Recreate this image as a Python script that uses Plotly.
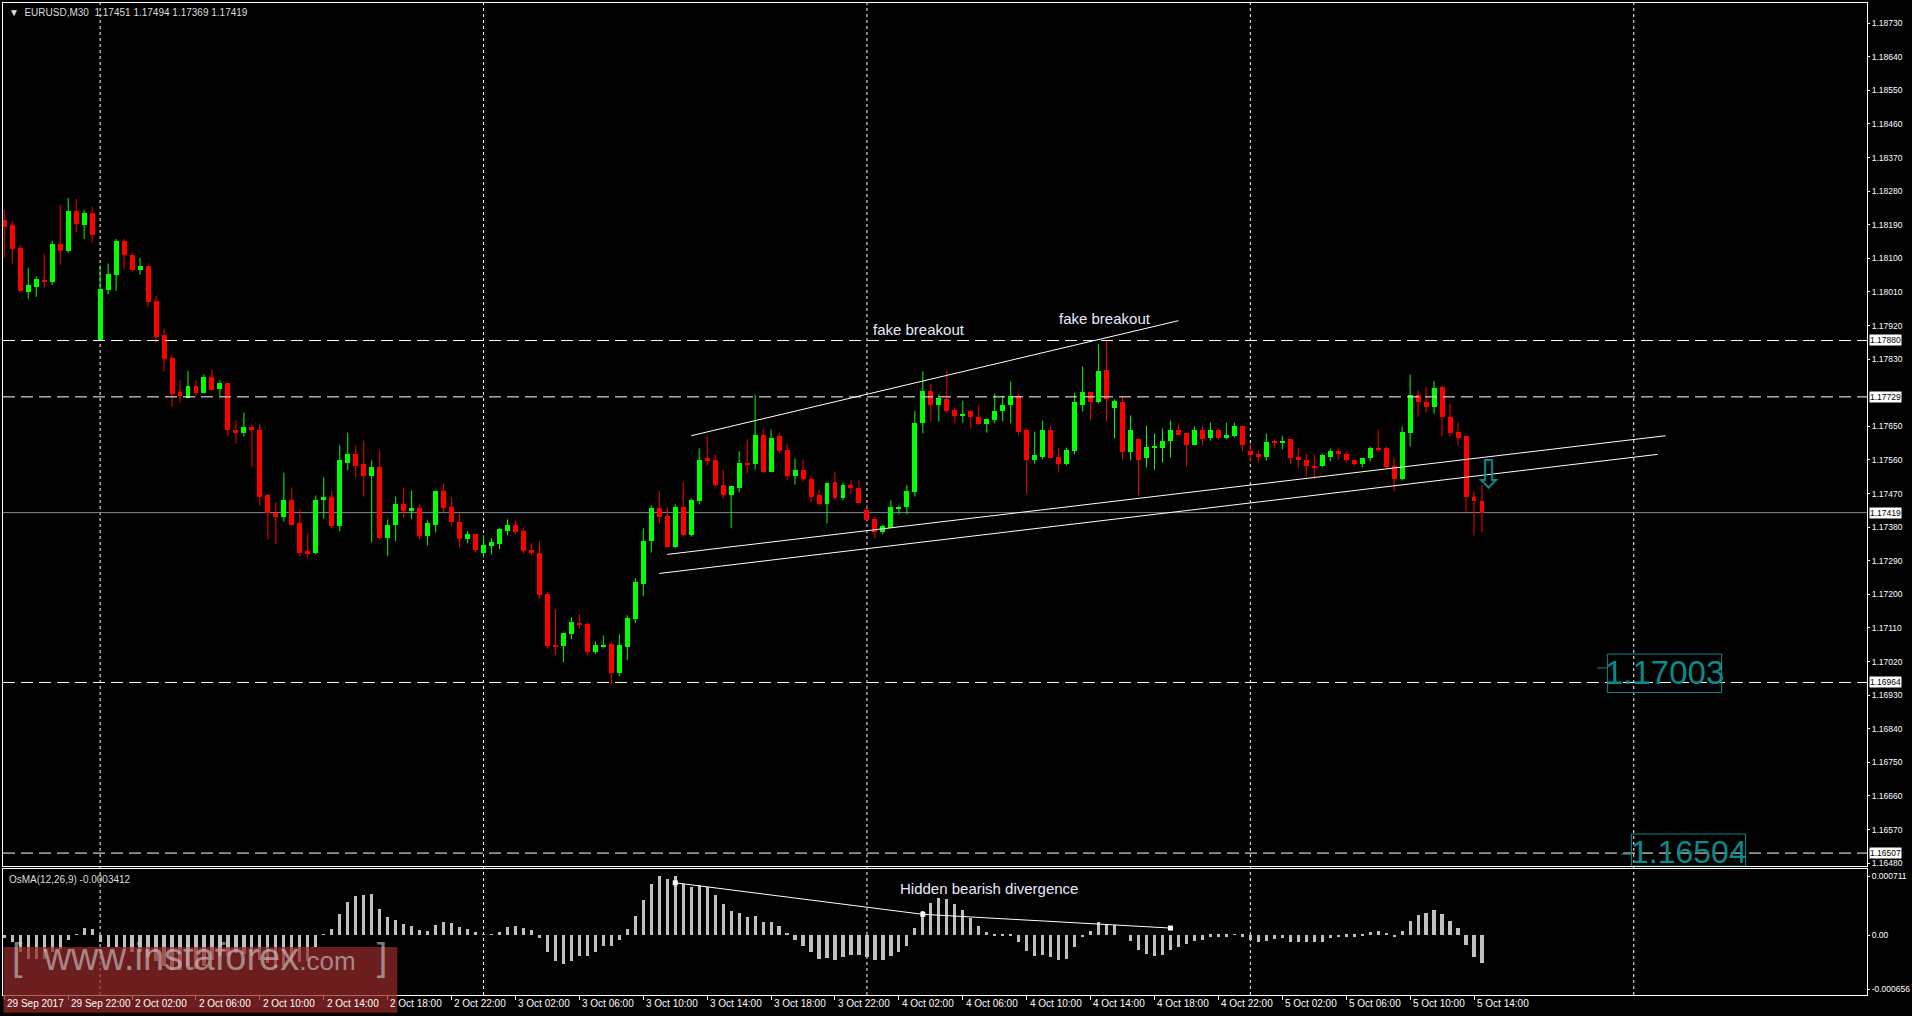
import plotly.graph_objects as go

# EURUSD M30, bars from 29 Sep 2017 18:00 to 5 Oct 14:30 (index = bar number)
opens = [
    1.18203, 1.18190, 1.18128, 1.18011, 1.18024, 1.18043, 1.18037, 1.18139, 1.18120, 1.18227,
    1.18190, 1.18222, 1.17880, 1.18016, 1.18056, 1.18147, 1.18110, 1.18069, 1.18080, 1.17987,
    1.17896, 1.17834, 1.17743, 1.17727, 1.17759, 1.17740, 1.17781, 1.17751, 1.17767, 1.17641,
    1.17631, 1.17649, 1.17641, 1.17465, 1.17419, 1.17406, 1.17452, 1.17390, 1.17315, 1.17310,
    1.17452, 1.17460, 1.17382, 1.17553, 1.17577, 1.17548, 1.17516, 1.17542, 1.17350, 1.17385,
    1.17443, 1.17425, 1.17430, 1.17355, 1.17387, 1.17476, 1.17433, 1.17395, 1.17347, 1.17361,
    1.17310, 1.17329, 1.17334, 1.17371, 1.17387, 1.17369, 1.17318, 1.17312, 1.17200, 1.17064,
    1.17061, 1.17093, 1.17123, 1.17120, 1.17045, 1.17061, 1.17066, 1.16989, 1.17058, 1.17133,
    1.17229, 1.17342, 1.17430, 1.17409, 1.17326, 1.17435, 1.17358, 1.17449, 1.17564, 1.17559,
    1.17494, 1.17465, 1.17484, 1.17553, 1.17548, 1.17628, 1.17529, 1.17623, 1.17588, 1.17516,
    1.17532, 1.17510, 1.17465, 1.17441, 1.17500, 1.17457, 1.17492, 1.17486, 1.17425, 1.17401,
    1.17366, 1.17379, 1.17430, 1.17433, 1.17473, 1.17658, 1.17746, 1.17706, 1.17724, 1.17695,
    1.17679, 1.17692, 1.17676, 1.17655, 1.17668, 1.17690, 1.17706, 1.17730, 1.17639, 1.17559,
    1.17567, 1.17641, 1.17567, 1.17550, 1.17585, 1.17708, 1.17743, 1.17714, 1.17802, 1.17698,
    1.17716, 1.17580, 1.17617, 1.17564, 1.17593, 1.17593, 1.17610, 1.17639, 1.17631, 1.17599,
    1.17641, 1.17620, 1.17641, 1.17620, 1.17625, 1.17650, 1.17583, 1.17575, 1.17567, 1.17609,
    1.17607, 1.17615, 1.17567, 1.17561, 1.17545, 1.17543, 1.17569, 1.17585, 1.17577, 1.17561,
    1.17548, 1.17564, 1.17591, 1.17591, 1.17545, 1.17508, 1.17631, 1.17735, 1.17716, 1.17703,
    1.17756, 1.17676, 1.17636, 1.17625, 1.17462, 1.17451,
]
highs = [
    1.18230, 1.18201, 1.18136, 1.18075, 1.18051, 1.18112, 1.18147, 1.18243, 1.18262, 1.18259,
    1.18230, 1.18238, 1.18080, 1.18086, 1.18152, 1.18152, 1.18115, 1.18102, 1.18080, 1.18000,
    1.17912, 1.17839, 1.17773, 1.17799, 1.17775, 1.17789, 1.17802, 1.17773, 1.17767, 1.17666,
    1.17687, 1.17655, 1.17657, 1.17470, 1.17446, 1.17526, 1.17486, 1.17427, 1.17363, 1.17465,
    1.17513, 1.17478, 1.17599, 1.17633, 1.17599, 1.17612, 1.17559, 1.17585, 1.17401, 1.17462,
    1.17486, 1.17478, 1.17441, 1.17398, 1.17478, 1.17497, 1.17460, 1.17419, 1.17369, 1.17361,
    1.17358, 1.17350, 1.17377, 1.17401, 1.17398, 1.17379, 1.17337, 1.17342, 1.17205, 1.17160,
    1.17096, 1.17139, 1.17147, 1.17125, 1.17074, 1.17090, 1.17072, 1.17093, 1.17144, 1.17243,
    1.17377, 1.17438, 1.17478, 1.17433, 1.17441, 1.17500, 1.17457, 1.17591, 1.17623, 1.17575,
    1.17534, 1.17489, 1.17583, 1.17615, 1.17735, 1.17644, 1.17641, 1.17633, 1.17604, 1.17564,
    1.17561, 1.17516, 1.17481, 1.17500, 1.17529, 1.17500, 1.17505, 1.17505, 1.17441, 1.17409,
    1.17387, 1.17452, 1.17438, 1.17492, 1.17692, 1.17797, 1.17764, 1.17735, 1.17799, 1.17700,
    1.17719, 1.17692, 1.17706, 1.17671, 1.17738, 1.17732, 1.17770, 1.17738, 1.17644, 1.17636,
    1.17666, 1.17652, 1.17591, 1.17593, 1.17740, 1.17810, 1.17743, 1.17871, 1.17879, 1.17722,
    1.17730, 1.17679, 1.17617, 1.17652, 1.17631, 1.17644, 1.17666, 1.17655, 1.17631, 1.17650,
    1.17652, 1.17660, 1.17644, 1.17660, 1.17660, 1.17650, 1.17604, 1.17585, 1.17631, 1.17615,
    1.17625, 1.17615, 1.17591, 1.17577, 1.17575, 1.17577, 1.17591, 1.17591, 1.17583, 1.17561,
    1.17564, 1.17596, 1.17641, 1.17596, 1.17567, 1.17650, 1.17789, 1.17746, 1.17756, 1.17772,
    1.17759, 1.17711, 1.17660, 1.17625, 1.17476, 1.17494,
]
lows = [
    1.18102, 1.18086, 1.18011, 1.17992, 1.17997, 1.18021, 1.18029, 1.18083, 1.18115, 1.18171,
    1.18152, 1.18142, 1.17880, 1.18003, 1.18013, 1.18072, 1.18064, 1.18056, 1.17970, 1.17874,
    1.17797, 1.17703, 1.17714, 1.17727, 1.17730, 1.17738, 1.17748, 1.17732, 1.17623, 1.17604,
    1.17623, 1.17540, 1.17438, 1.17347, 1.17334, 1.17395, 1.17385, 1.17302, 1.17299, 1.17307,
    1.17403, 1.17377, 1.17369, 1.17532, 1.17513, 1.17462, 1.17339, 1.17347, 1.17302, 1.17342,
    1.17406, 1.17401, 1.17347, 1.17331, 1.17366, 1.17419, 1.17385, 1.17326, 1.17337, 1.17312,
    1.17299, 1.17307, 1.17321, 1.17358, 1.17361, 1.17310, 1.17304, 1.17189, 1.17056, 1.17037,
    1.17018, 1.17080, 1.17109, 1.17037, 1.17040, 1.17058, 1.16959, 1.16981, 1.17024, 1.17123,
    1.17195, 1.17312, 1.17390, 1.17326, 1.17323, 1.17355, 1.17355, 1.17441, 1.17545, 1.17489,
    1.17457, 1.17377, 1.17473, 1.17524, 1.17534, 1.17529, 1.17529, 1.17577, 1.17505, 1.17494,
    1.17502, 1.17446, 1.17438, 1.17390, 1.17452, 1.17452, 1.17468, 1.17446, 1.17398, 1.17350,
    1.17361, 1.17377, 1.17414, 1.17414, 1.17462, 1.17631, 1.17663, 1.17663, 1.17687, 1.17658,
    1.17660, 1.17644, 1.17655, 1.17633, 1.17658, 1.17663, 1.17658, 1.17625, 1.17468, 1.17550,
    1.17561, 1.17564, 1.17529, 1.17545, 1.17575, 1.17690, 1.17666, 1.17711, 1.17663, 1.17617,
    1.17561, 1.17559, 1.17465, 1.17540, 1.17534, 1.17553, 1.17567, 1.17628, 1.17543, 1.17599,
    1.17599, 1.17612, 1.17615, 1.17615, 1.17620, 1.17583, 1.17556, 1.17553, 1.17559, 1.17593,
    1.17588, 1.17548, 1.17537, 1.17516, 1.17510, 1.17540, 1.17556, 1.17559, 1.17553, 1.17543,
    1.17540, 1.17556, 1.17583, 1.17540, 1.17476, 1.17505, 1.17596, 1.17676, 1.17687, 1.17684,
    1.17623, 1.17623, 1.17599, 1.17422, 1.17358, 1.17366,
]
closes = [
    1.18184, 1.18126, 1.18013, 1.18029, 1.18045, 1.18037, 1.18139, 1.18120, 1.18227, 1.18192,
    1.18222, 1.18163, 1.18019, 1.18059, 1.18147, 1.18110, 1.18069, 1.18080, 1.17984, 1.17890,
    1.17831, 1.17738, 1.17730, 1.17759, 1.17740, 1.17783, 1.17748, 1.17767, 1.17639, 1.17631,
    1.17649, 1.17639, 1.17460, 1.17417, 1.17406, 1.17454, 1.17387, 1.17310, 1.17310, 1.17454,
    1.17460, 1.17382, 1.17559, 1.17577, 1.17545, 1.17516, 1.17542, 1.17352, 1.17387, 1.17441,
    1.17422, 1.17430, 1.17355, 1.17390, 1.17476, 1.17430, 1.17393, 1.17347, 1.17361, 1.17318,
    1.17331, 1.17339, 1.17374, 1.17387, 1.17366, 1.17315, 1.17310, 1.17197, 1.17061, 1.17058,
    1.17096, 1.17125, 1.17117, 1.17045, 1.17064, 1.17064, 1.16989, 1.17064, 1.17136, 1.17232,
    1.17342, 1.17430, 1.17406, 1.17328, 1.17435, 1.17358, 1.17452, 1.17561, 1.17556, 1.17492,
    1.17465, 1.17489, 1.17553, 1.17548, 1.17628, 1.17529, 1.17620, 1.17585, 1.17516, 1.17532,
    1.17508, 1.17462, 1.17441, 1.17497, 1.17457, 1.17494, 1.17484, 1.17446, 1.17398, 1.17366,
    1.17382, 1.17433, 1.17433, 1.17478, 1.17660, 1.17746, 1.17708, 1.17727, 1.17692, 1.17679,
    1.17684, 1.17674, 1.17655, 1.17671, 1.17692, 1.17708, 1.17730, 1.17636, 1.17559, 1.17572,
    1.17639, 1.17564, 1.17550, 1.17588, 1.17714, 1.17743, 1.17714, 1.17799, 1.17722, 1.17719,
    1.17580, 1.17639, 1.17561, 1.17596, 1.17596, 1.17612, 1.17639, 1.17628, 1.17599, 1.17639,
    1.17617, 1.17641, 1.17620, 1.17628, 1.17650, 1.17599, 1.17572, 1.17567, 1.17609, 1.17607,
    1.17612, 1.17564, 1.17559, 1.17543, 1.17540, 1.17572, 1.17585, 1.17575, 1.17559, 1.17548,
    1.17564, 1.17593, 1.17588, 1.17540, 1.17508, 1.17636, 1.17735, 1.17714, 1.17703, 1.17754,
    1.17674, 1.17633, 1.17620, 1.17462, 1.17449, 1.17419,
]
osma = [
    -0.00004, -0.00008, -0.0002, -0.00029, -0.00029, -0.00029, -0.0002, -0.00017, -0.00006, 0.00001,
    0.00008, 0.00007, -0.00008, -0.00015, -0.00015, -0.00017, -0.0002, -0.00021, -0.00027, -0.00032,
    -0.00037, -0.00042, -0.00042, -0.00037, -0.00041, -0.00038, -0.0003, -0.00026, -0.00026, -0.00022,
    -0.00023, -0.00026, -0.0003, -0.00034, -0.0004, -0.00037, -0.00032, -0.00033, -0.00032, -0.00015,
    0.00001, 0.00007, 0.00025, 0.0004, 0.00047, 0.00048, 0.00049, 0.00031, 0.00022, 0.00018,
    0.00013, 0.00011, 0.00006, 0.00005, 0.00012, 0.00016, 0.00014, 0.00009, 0.00007, 0.00003,
    0.00001, 0.00001, 0.00004, 0.00009, 0.00011, 0.00008, 0.00006, -0.00004, -0.00021, -0.00032,
    -0.00035, -0.00031, -0.00026, -0.00025, -0.0002, -0.00013, -0.00013, -0.00006, 0.00007, 0.00023,
    0.00042, 0.00062, 0.00071, 0.00068, 0.00071, 0.00062, 0.00058, 0.0006, 0.00058, 0.00048,
    0.00037, 0.00029, 0.00027, 0.00022, 0.00023, 0.00015, 0.00015, 0.00011, 0.00002, -0.00006,
    -0.00013, -0.00021, -0.00029, -0.00028, -0.0003, -0.00027, -0.00024, -0.00024, -0.00027, -0.0003,
    -0.0003, -0.00025, -0.0002, -0.00013, 0.00008, 0.00029, 0.00039, 0.00045, 0.00043, 0.00037,
    0.0003, 0.00021, 0.00011, 0.00004, -0.00001, -0.00001, -0.00001, -0.00008, -0.00019, -0.00026,
    -0.00024, -0.00027, -0.0003, -0.00029, -0.00015, -0.00003, 0.00005, 0.00016, 0.00013, 0.00012,
    0.0, -0.00007, -0.00018, -0.00023, -0.00025, -0.00024, -0.00018, -0.00014, -0.00011, -0.00007,
    -0.00006, -0.00002, -0.00002, -0.00002, 0.00001, -0.00002, -0.00006, -0.00009, -0.00007, -0.00005,
    -0.00004, -0.00008, -0.00009, -0.00009, -0.00009, -0.00008, -0.00004, -0.00003, -0.00002, -0.00002,
    -0.00001, 0.00003, 0.00005, 0.00002, -0.00003, 0.00005, 0.00017, 0.00024, 0.00027, 0.0003,
    0.00025, 0.00017, 0.00008, -0.00012, -0.00027, -0.00034,
]

# x-axis labels (every 8 bars)
tick_bars = [0, 8, 16, 24, 32, 40, 48, 56, 64, 72, 80, 88, 96, 104, 112, 120,
             128, 136, 144, 152, 160, 168, 176, 184]
tick_labels = ["29 Sep 2017", "29 Sep 22:00", "2 Oct 02:00", "2 Oct 06:00", "2 Oct 10:00",
               "2 Oct 14:00", "2 Oct 18:00", "2 Oct 22:00", "3 Oct 02:00", "3 Oct 06:00",
               "3 Oct 10:00", "3 Oct 14:00", "3 Oct 18:00", "3 Oct 22:00", "4 Oct 02:00",
               "4 Oct 06:00", "4 Oct 10:00", "4 Oct 14:00", "4 Oct 18:00", "4 Oct 22:00",
               "5 Oct 02:00", "5 Oct 06:00", "5 Oct 10:00", "5 Oct 14:00"]
day_bars = [12, 60, 108, 156, 204]
price_ticks = [1.18730, 1.18640, 1.18550, 1.18460, 1.18370, 1.18280, 1.18190, 1.18100,
               1.18010, 1.17920, 1.17830, 1.17650, 1.17560, 1.17470, 1.17380, 1.17290,
               1.17200, 1.17110, 1.17020, 1.16930, 1.16840, 1.16750, 1.16660, 1.16570, 1.16480]
levels = [1.17880, 1.17729, 1.16964, 1.16507]
bid = 1.17419
osma_ticks = [0.000711, 0.0, -0.000656]
osma_tick_labels = ["0.000711", "0.00", "-0.000656"]

# drawn objects: (bar, price) pairs
upper_line = [(86, 1.17625), (147, 1.17933)]
channel_a = [(83, 1.17307), (208, 1.17625)]
channel_b = [(82, 1.17256), (207, 1.17575)]
div_line = [(84, 0.00063), (115, 0.00025), (146, 0.000084)]

FONT = "Liberation Sans, Arial, sans-serif"
TEAL = "#0a8a8a"
bars = list(range(len(closes)))

fig = go.Figure()

# candles: wicks as line segments, bodies as floating bars
for up, color in [(True, "#00ff00"), (False, "#ff0000")]:
    idx = [i for i in bars if (closes[i] >= opens[i]) == up]
    wx, wy = [], []
    for i in idx:
        wx += [i, i, None]
        wy += [lows[i], highs[i], None]
    fig.add_trace(go.Scatter(x=wx, y=wy, mode="lines", line=dict(color=color, width=1),
                             xaxis="x", yaxis="y", showlegend=False, hoverinfo="skip"))
    fig.add_trace(go.Bar(
        x=idx,
        base=[min(opens[i], closes[i]) for i in idx],
        y=[max(abs(closes[i] - opens[i]), 0.000025) for i in idx],
        width=0.62, marker=dict(color=color, line=dict(width=0)),
        xaxis="x", yaxis="y", showlegend=False, hoverinfo="skip"))

fig.add_trace(go.Bar(
    x=bars, y=osma, width=0.4, marker=dict(color="#c0c0c0", line=dict(width=0)),
    xaxis="x2", yaxis="y2", showlegend=False, hoverinfo="skip",
))
for line in (upper_line, channel_a, channel_b):
    fig.add_trace(go.Scatter(
        x=[p[0] for p in line], y=[p[1] for p in line], mode="lines",
        line=dict(color="white", width=1), xaxis="x", yaxis="y",
        showlegend=False, hoverinfo="skip"))
fig.add_trace(go.Scatter(
    x=[p[0] for p in div_line], y=[p[1] for p in div_line], mode="lines+markers",
    line=dict(color="white", width=1), marker=dict(color="white", size=5, symbol="square"),
    xaxis="x2", yaxis="y2", showlegend=False, hoverinfo="skip"))

shapes = []
for d in day_bars:
    shapes.append(dict(type="line", xref="x", yref="paper", x0=d, x1=d, y0=0, y1=1,
                       line=dict(color="white", width=1, dash="dot"), layer="below"))
for lv in levels:
    shapes.append(dict(type="line", xref="paper", yref="y", x0=0, x1=1, y0=lv, y1=lv,
                       line=dict(color="white", width=1, dash="12px,6px")))
shapes.append(dict(type="line", xref="paper", yref="y", x0=0, x1=1, y0=bid, y1=bid,
                   line=dict(color="#7a8899", width=1), layer="below"))
# target level labels
for (bx0, bx1, px0, px1, lbl_price) in [(200.7, 215.0, 1.17040, 1.16937, 1.17003),
                                         (203.7, 218.0, 1.16558, 1.16472, 1.16504)]:
    shapes.append(dict(type="rect", xref="x", yref="y", x0=bx0, x1=bx1, y0=px0, y1=px1,
                       line=dict(color=TEAL, width=1)))
    shapes.append(dict(type="line", xref="x", yref="y", x0=bx0 - 1.3, x1=bx0,
                       y0=lbl_price, y1=lbl_price, line=dict(color=TEAL, width=1)))
# watermark
shapes.append(dict(type="rect", xref="x", yref="paper", x0=-0.1, x1=49.2,
                   y0=-0.018, y1=0.0483, fillcolor="rgba(150,40,40,0.72)",
                   line=dict(width=0), layer="above"))

ann = []
for b, t in zip(tick_bars, tick_labels):
    ann.append(dict(x=b + 0.1, y=-0.0015, xref="x2", yref="paper", text=t, showarrow=False,
                    xanchor="left", yanchor="top", font=dict(family=FONT, size=10, color="white")))
for lv, t in [(1.17880, "1.17880"), (1.17729, "1.17729"), (bid, "1.17419"),
              (1.16964, "1.16964"), (1.16507, "1.16507")]:
    ann.append(dict(x=1, y=lv, xref="paper", yref="y", text=t, showarrow=False, xanchor="left",
                    xshift=2, bgcolor="white", borderpad=0,
                    font=dict(family=FONT, size=8.5, color="black")))
ann += [
    dict(x=0.002, y=1, xref="paper", yref="paper", text="▼  EURUSD,M30  1.17451 1.17494 1.17369 1.17419",
         showarrow=False, xanchor="left", yanchor="top", yshift=-2,
         font=dict(family=FONT, size=10, color="#dddddd")),
    dict(x=0.002, y=0.1269, xref="paper", yref="paper", text="OsMA(12,26,9) -0.0003412",
         showarrow=False, xanchor="left", yanchor="top", yshift=-3,
         font=dict(family=FONT, size=10, color="#dddddd")),
    dict(x=114.5, y=1.17910, xref="x", yref="y", text="fake breakout", showarrow=False,
         font=dict(family=FONT, size=15, color="#e8ecff")),
    dict(x=137.8, y=1.17940, xref="x", yref="y", text="fake breakout", showarrow=False,
         font=dict(family=FONT, size=15, color="#e8ecff")),
    dict(x=123.3, y=0.00056, xref="x2", yref="y2", text="Hidden bearish divergence", showarrow=False,
         font=dict(family=FONT, size=15, color="#e8ecff")),
    dict(x=207.9, y=1.16990, xref="x", yref="y", text="1.17003", showarrow=False,
         font=dict(family=FONT, size=33, color=TEAL)),
    dict(x=210.9, y=1.16510, xref="x", yref="y", text="1.16504", showarrow=False,
         font=dict(family=FONT, size=32, color=TEAL)),
    dict(x=185.9, y=1.17522, xref="x", yref="y", text="⇩", showarrow=False,
         font=dict(family="DejaVu Sans", size=40, color=TEAL)),
    dict(x=24.5, y=0.015, xref="x", yref="paper", xanchor="center",
         text="[  www.instaforex<span style='font-size:26px'>.com</span>  ]", showarrow=False,
         font=dict(family=FONT, size=38, color="rgba(205,205,205,0.62)")),
]

axis_common = dict(showgrid=False, zeroline=False, linecolor="white", linewidth=1, mirror=True,
                   showline=True)
fig.update_layout(
    width=1912, height=1016,
    margin=dict(l=2, r=43, t=2, b=21),
    paper_bgcolor="black", plot_bgcolor="black",
    barmode="overlay", bargap=0,
    xaxis=dict(domain=[0, 1], range=[-0.16, 233.2], anchor="y", showticklabels=False,
               **axis_common),
    xaxis2=dict(domain=[0, 1], range=[-0.16, 233.2], anchor="y2", matches="x",
                showticklabels=False, ticks="outside", ticklen=4, tickcolor="white",
                tickvals=tick_bars, **axis_common),
    yaxis=dict(domain=[0.1299, 1], range=[1.16472, 1.18784], side="right", tickvals=price_ticks,
               ticktext=[f"{p:.5f}" for p in price_ticks], ticks="outside", ticklen=2,
               tickcolor="white", tickfont=dict(family=FONT, size=8.5, color="white"), **axis_common),
    yaxis2=dict(domain=[0, 0.1269], range=[-0.000723, 0.000795], side="right",
                tickvals=osma_ticks, ticktext=osma_tick_labels, ticks="outside", ticklen=2,
                tickcolor="white", tickfont=dict(family=FONT, size=8.5, color="white"), **axis_common),
    shapes=shapes, annotations=ann,
)

fig.write_html("out.html", config={"displayModeBar": False},
               post_script="document.body.style.margin='0';document.body.style.overflow='hidden';")
